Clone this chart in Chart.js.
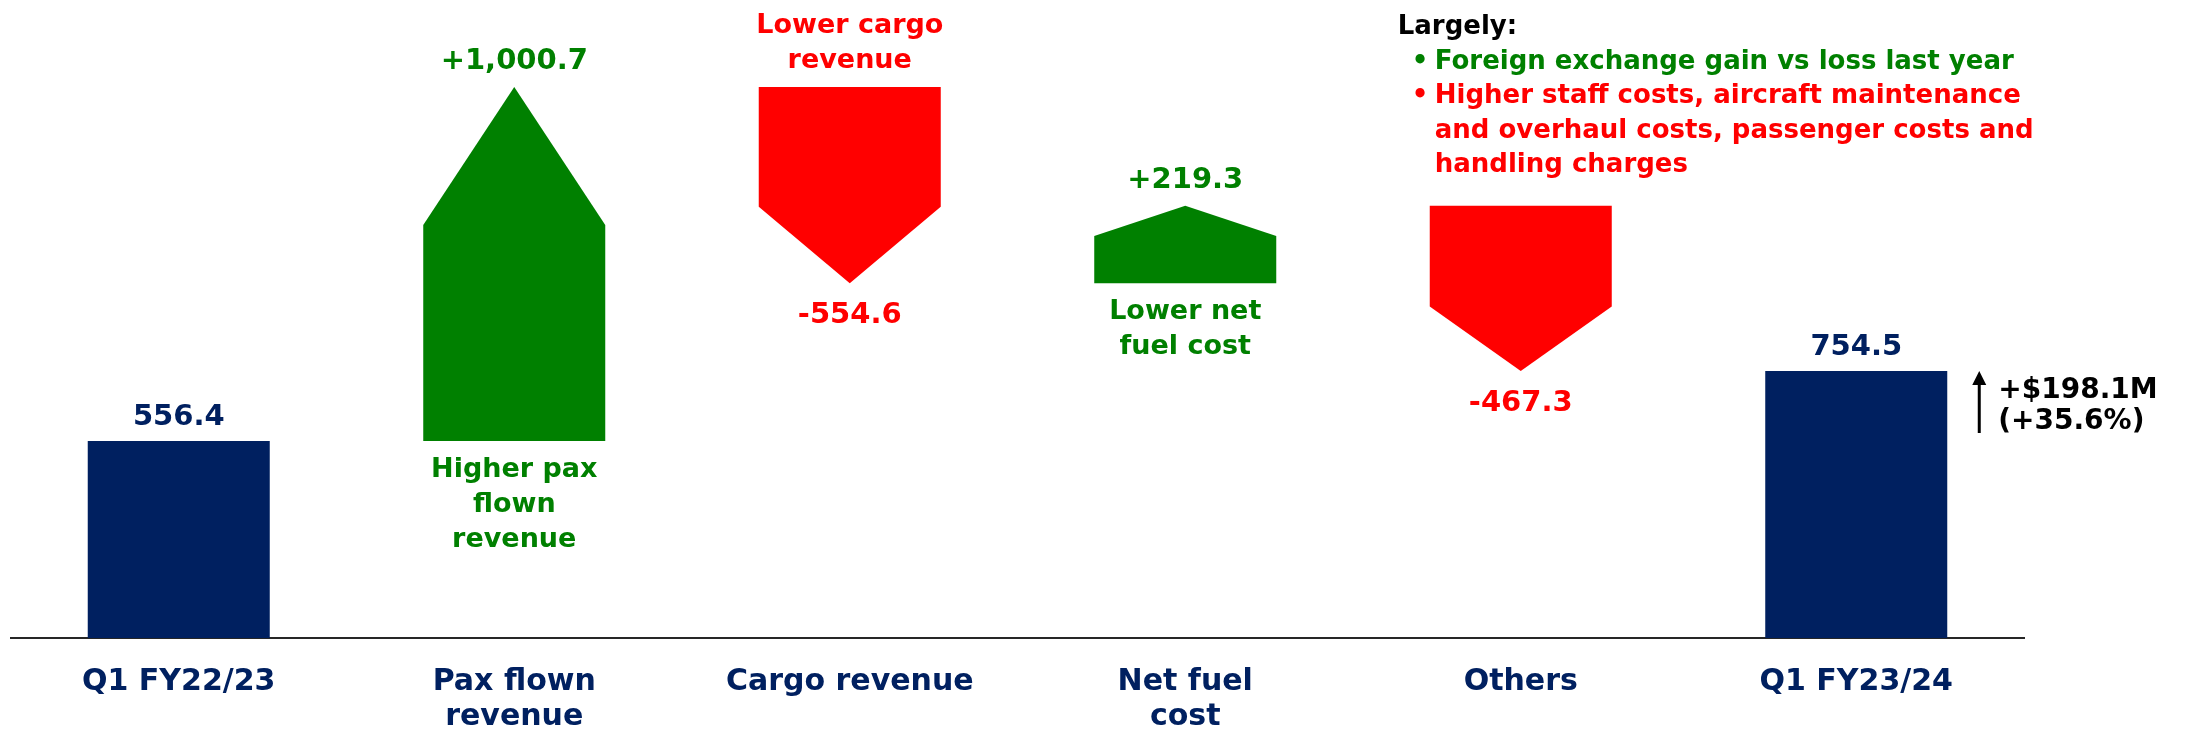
<!DOCTYPE html>
<html>
<head>
<meta charset="utf-8">
<script src="https://cdn.jsdelivr.net/npm/chart.js@4.4.0/dist/chart.umd.min.js"></script>
<style>
  html, body { margin: 0; padding: 0; background: #fff; overflow: hidden; }
  #wrap { width: 2187px; height: 732px; position: relative; }
</style>
</head>
<body>
<div id="wrap"><canvas id="bridge"></canvas></div>
<script>
// Operating profit bridge, S$ million
const categories = [['Q1 FY22/23'], ['Pax flown', 'revenue'], ['Cargo revenue'], ['Net fuel', 'cost'], ['Others'], ['Q1 FY23/24']];
const startValue = 556.4;
const deltas = [1000.7, -554.6, 219.3, -467.3];
const endValue = 754.5;
const deltaNotes = [['Higher pax', 'flown', 'revenue'], ['Lower cargo', 'revenue'], ['Lower net', 'fuel cost'], []];
const othersLead = 'Largely:';
const othersGood = ['Foreign exchange gain vs loss last year'];
const othersBad = ['Higher staff costs, aircraft maintenance', 'and overhaul costs, passenger costs and', 'handling charges'];
const changeNote = ['+$198.1M', '(+35.6%)'];

const NAVY = '#002060';
const GREEN = '#008000';
const RED = '#ff0000';
const FONT = '"DejaVu Sans", Verdana, sans-serif';

// floating ranges for the bridge
const ranges = [[0, startValue]];
let running = startValue;
deltas.forEach(d => {
  ranges.push([running, running + d]);
  running += d;
});
ranges.push([0, endValue]);
const lastIdx = ranges.length - 1;

const fmt = v => v.toLocaleString('en-US', { minimumFractionDigits: 1, maximumFractionDigits: 1 });
const fmtDelta = v => (v > 0 ? '+' : '') + fmt(v);

function drawLines(ctx, lines, x, firstBaseline, step) {
  lines.forEach((t, k) => ctx.fillText(t, x, firstBaseline + k * step));
}

// arrows for the deltas + all the text around the bars
const bridgePlugin = {
  id: 'bridge',
  afterDatasetsDraw(chart) {
    const ctx = chart.ctx;
    const meta = chart.getDatasetMeta(0);
    ctx.save();
    ctx.textAlign = 'center';
    ctx.textBaseline = 'alphabetic';

    meta.data.forEach((bar, i) => {
      const { x, y, base, width } = bar.getProps(['x', 'y', 'base', 'width'], true);
      const left = x - width / 2;
      const right = x + width / 2;
      const top = Math.min(y, base);
      const bottom = Math.max(y, base);

      if (i === 0 || i === lastIdx) {
        ctx.fillStyle = NAVY;
        ctx.font = 'bold 29px ' + FONT;
        ctx.fillText(fmt(i === 0 ? startValue : endValue), x, top - 16);
        return;
      }

      const d = deltas[i - 1];
      const head = (bottom - top) * 0.39;
      const col = d > 0 ? GREEN : RED;
      ctx.fillStyle = col;
      ctx.beginPath();
      if (d > 0) {
        ctx.moveTo(left, bottom);
        ctx.lineTo(left, top + head);
        ctx.lineTo(x, top);
        ctx.lineTo(right, top + head);
        ctx.lineTo(right, bottom);
      } else {
        ctx.moveTo(left, top);
        ctx.lineTo(right, top);
        ctx.lineTo(right, bottom - head);
        ctx.lineTo(x, bottom);
        ctx.lineTo(left, bottom - head);
      }
      ctx.closePath();
      ctx.fill();

      const note = deltaNotes[i - 1];
      if (d > 0) {
        ctx.font = 'bold 29px ' + FONT;
        ctx.fillText(fmtDelta(d), x, top - 18);
        ctx.font = 'bold 27px ' + FONT;
        drawLines(ctx, note, x, bottom + 36, 35);
      } else {
        ctx.font = 'bold 29px ' + FONT;
        ctx.fillText(fmtDelta(d), x, bottom + 40);
        ctx.font = 'bold 27px ' + FONT;
        drawLines(ctx, note, x, top - 19 - (note.length - 1) * 35, 35);
      }
    });

    // "Largely:" block over the Others arrow
    const others = meta.data[4];
    const bx = others.x - others.width / 2 - 32;
    const step = 34.6;
    ctx.textAlign = 'left';
    ctx.font = 'bold 26px ' + FONT;
    ctx.fillStyle = '#000';
    ctx.fillText(othersLead, bx, 34);
    let yy = 34 + step;
    [[othersGood, GREEN], [othersBad, RED]].forEach(([lines, c]) => {
      ctx.fillStyle = c;
      lines.forEach((t, k) => {
        if (k === 0) ctx.fillText('\u2022', bx + 14, yy);
        ctx.fillText(t, bx + 37, yy);
        yy += step;
      });
    });

    // overall change note next to the last bar
    const endBar = meta.data[lastIdx];
    const ax = endBar.x + endBar.width / 2 + 32;
    const ay = Math.min(endBar.y, endBar.base);
    ctx.strokeStyle = '#000';
    ctx.fillStyle = '#000';
    ctx.lineWidth = 3;
    ctx.beginPath();
    ctx.moveTo(ax, ay + 10);
    ctx.lineTo(ax, ay + 62);
    ctx.stroke();
    ctx.beginPath();
    ctx.moveTo(ax, ay);
    ctx.lineTo(ax - 7, ay + 14);
    ctx.lineTo(ax + 7, ay + 14);
    ctx.closePath();
    ctx.fill();
    ctx.font = 'bold 28px ' + FONT;
    drawLines(ctx, changeNote, ax + 19, ay + 27, 31);

    ctx.restore();
  }
};

new Chart(document.getElementById('bridge'), {
  type: 'bar',
  data: {
    labels: categories,
    datasets: [{
      data: ranges,
      backgroundColor: ranges.map((r, i) => (i === 0 || i === lastIdx) ? NAVY : 'rgba(0,0,0,0)'),
      borderWidth: 0,
      barPercentage: 0.5425,
      categoryPercentage: 1
    }]
  },
  options: {
    responsive: true,
    maintainAspectRatio: false,
    animation: false,
    layout: { padding: { left: 11, right: 163, top: 0, bottom: -30 } },
    plugins: {
      legend: { display: false },
      tooltip: { enabled: false }
    },
    scales: {
      x: {
        grid: { display: false, drawTicks: false },
        border: { display: true, color: '#262626', width: 2 },
        ticks: {
          color: NAVY,
          font: { family: FONT, size: 30, weight: 'bold', lineHeight: 1.1667 },
          padding: 27,
          autoSkip: false,
          maxRotation: 0
        }
      },
      y: {
        display: false,
        min: 0,
        max: 1803
      }
    }
  },
  plugins: [bridgePlugin]
});
</script>
</body>
</html>
